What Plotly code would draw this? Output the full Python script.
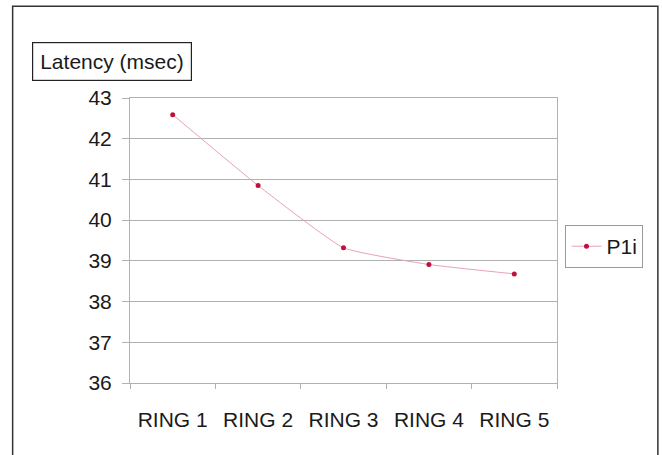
import plotly.graph_objects as go

categories = ["RING 1", "RING 2", "RING 3", "RING 4", "RING 5"]
p1i_latency = [42.59, 40.85, 39.32, 38.91, 38.68]
y_ticks = [36, 37, 38, 39, 40, 41, 42, 43]
series_name = "P1i"
y_title = "Latency (msec)"

W, H = 662, 455
L, R, T, B = 130, 557.5, 97.5, 383.5


def px(x):
    return (x - L) / (R - L)


def py(y):
    return (B - y) / (B - T)


FONT = "Liberation Sans, Arial, sans-serif"
GRID = "#aeb2b2"

fig = go.Figure()
fig.add_trace(go.Scatter(
    x=categories, y=p1i_latency, name=series_name, mode="lines+markers",
    line=dict(color="#e8a2b6", width=1, shape="spline", smoothing=0.4),
    marker=dict(color="#c0103f", size=5, symbol="circle"),
))

fig.update_layout(
    width=W, height=H,
    margin=dict(l=L, r=W - R, t=T, b=H - B, pad=0),
    paper_bgcolor="white", plot_bgcolor="white",
    font=dict(family=FONT, size=21, color="#1a1a1a"),
    showlegend=True,
    legend=dict(
        x=px(566), y=py(225), xanchor="left", yanchor="top",
        bordercolor="#9a9a9a", borderwidth=1, bgcolor="white",
        font=dict(size=21), itemwidth=30, tracegroupgap=0,
    ),
    xaxis=dict(
        type="category", showgrid=False, showline=True, linecolor=GRID,
        linewidth=1, mirror=True, ticks="outside", tickson="boundaries",
        ticklen=5, tickcolor=GRID, ticklabelstandoff=18,
        tickfont=dict(size=21), range=[-0.5, 4.5],
    ),
    yaxis=dict(
        range=[36, 43], tickvals=y_ticks, showgrid=True, gridcolor=GRID,
        gridwidth=1, showline=True, linecolor=GRID, linewidth=1, mirror=True,
        ticks="outside", ticklen=7, tickcolor=GRID, zeroline=False,
        tickfont=dict(size=21), ticklabelstandoff=6,
    ),
    shapes=[
        dict(type="rect", xref="paper", yref="paper",
             x0=px(12.5), x1=px(658.5), y0=py(5.5), y1=py(470),
             line=dict(color="#333333", width=1.5), layer="above"),
    ],
    annotations=[
        dict(text=y_title, xref="paper", yref="paper",
             x=px(32), y=py(41), xanchor="left", yanchor="top",
             showarrow=False, font=dict(size=21, color="#1a1a1a"),
             bordercolor="#222222", borderwidth=1.2, borderpad=7,
             bgcolor="white"),
    ],
)

fig.write_html("out.html")
